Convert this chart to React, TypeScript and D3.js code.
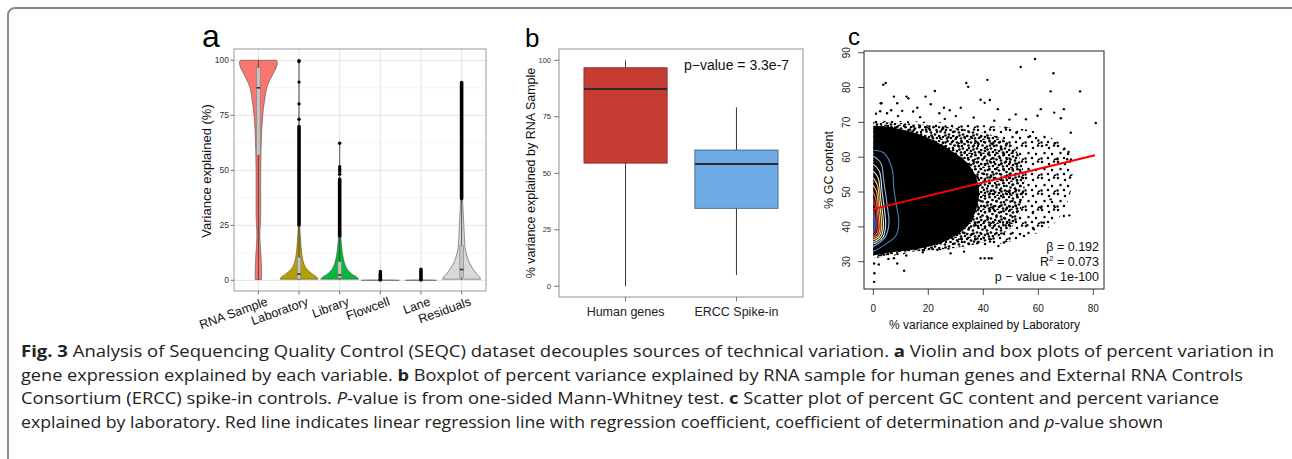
import * as d3 from 'd3'

// ---------- panel a: violin + box ----------
const A_CATS = ['RNA Sample', 'Laboratory', 'Library', 'Flowcell', 'Lane', 'Residuals']
const A_Y_TICKS = [0, 25, 50, 75, 100]
const A_Y_MINOR = [12.5, 37.5, 62.5, 87.5]

// [value, relative density width]
const A_DENSITY: number[][][] = [
  [[0.3, 0.16], [3, 0.17], [10.6, 0.14], [20, 0.08], [29, 0.12], [44, 0.12], [59, 0.14], [74, 0.22], [82, 0.33], [88, 0.46], [92.6, 0.7], [97, 0.95], [99, 1], [100, 0.95]],
  [[0.5, 1], [1.5, 0.93], [3, 0.68], [5, 0.42], [7, 0.28], [10, 0.18], [15, 0.11], [20, 0.07], [25, 0.04], [40, 0.02], [70, 0.01], [100, 0]],
  [[0.5, 1], [1.5, 0.9], [3, 0.62], [5, 0.4], [8, 0.25], [12, 0.15], [16, 0.1], [20, 0.06], [30, 0.03], [50, 0.01], [62, 0]],
  [[0, 1], [0.15, 0.5], [0.4, 0.04], [4, 0]],
  [[0, 0.82], [0.15, 0.4], [0.4, 0.04], [5, 0]],
  [[0.5, 1], [1.5, 0.95], [3, 0.78], [6, 0.54], [9, 0.36], [12, 0.25], [15, 0.18], [21, 0.14], [30, 0.09], [37, 0.05], [50, 0.02], [90, 0]],
]
// [lower whisker, q1, median, q3, upper whisker]
const A_BOX = [
  [0.3, 56.9, 87.5, 96.7, 100],
  [0.2, 0.5, 2.8, 10.4, 25],
  [0.2, 1, 2.4, 8.4, 20],
  [0, 0, 0.1, 0.3, 0.8],
  [0, 0, 0.1, 0.3, 0.9],
  [0.3, 1.2, 4.9, 15.8, 37],
]
// dense runs of outliers [from, to]
const A_OUT_BANDS: (number[] | null)[] = [null, [25, 70], [20, 46], [0, 2.8], [0, 4.5], [37, 90]]
const A_OUT_POINTS = [
  [],
  [73.2, 80.2, 90.1, 99.4, 99.8],
  [48.2, 49.5, 50.5, 51.6, 62.3],
  [3.3, 4],
  [5],
  [],
]

// ---------- panel b: boxplot ----------
const B_GROUPS = ['Human genes', 'ERCC Spike-in']
const B_BOX = [
  [0, 54.5, 87.3, 96.7, 100],
  [5, 34.5, 54.1, 60.3, 79.2],
]
const B_Y_TICKS = [0, 25, 50, 75, 100]

// ---------- panel c: scatter ----------
const C_X_TICKS = [0, 20, 40, 60, 80]
const C_Y_TICKS = [30, 40, 50, 60, 70, 80, 90]
// [x, yLow, yHigh] of the solid cloud and of the speckled zones around it
const C_CORE = [[0, 31.8, 69], [5, 32.5, 68.8], [10, 33, 68], [15, 33.5, 67], [20, 34.3, 65.5], [25, 35.5, 63.5], [30, 37.5, 61], [34, 40, 58.5], [37, 44, 55], [38.5, 49, 51]]
const C_MID = [[0, 31.2, 70.2], [10, 32.5, 69.8], [20, 33.2, 69.2], [30, 34, 68.4], [40, 35.6, 67], [46, 37.5, 65.5], [51, 40.5, 63], [54, 46, 58], [55, 51, 53]]
const C_SPARSE = [[0, 31, 70.5], [20, 33, 70.2], [35, 34, 69.5], [45, 35, 68.8], [55, 37, 68], [62, 39, 66.5], [67, 42, 64.5], [70, 46, 62.5], [72, 51, 60.5], [72.5, 55, 57]]
const C_POINTS = [
  [58.8, 88.2], [53.6, 85.9], [65.5, 84.1], [4.5, 81.3], [3.6, 80.8], [33.8, 81.3], [34.5, 80.2], [41.5, 82.2], [75.2, 78.9], [64.5, 78.9],
  [80.9, 69.8], [7.5, 77.4], [12.1, 77.4], [12.8, 76.9], [22.4, 79], [19, 77.4], [39, 76.5], [42.4, 76.4], [40.5, 75.6], [31.8, 74.2],
  [25.7, 74.2], [27.8, 73.5], [60.9, 73.8], [69.3, 73.8], [59.7, 71.9], [65.8, 72.8], [68.2, 71.2], [51.8, 72.3], [45.3, 73.8], [49.5, 70.8],
  [2.7, 75.5], [8.7, 75.5], [3, 75.5], [16, 74.2], [20.9, 75.2], [14.5, 73.1], [24, 72.6], [36.5, 71.4], [44, 70.5], [55.5, 70.9],
  [71.8, 67], [69.3, 62.3], [66.9, 59.4], [70.5, 59.4], [71, 61.5], [64.5, 47.9], [65.8, 46], [69.3, 43.1], [71.3, 43.3], [62, 41.2],
  [58.4, 39.3], [54.8, 37.4], [47.5, 35.5], [45.5, 34.5], [39, 31], [40.5, 31], [42, 31], [43, 31], [0.3, 29.5], [0.4, 26.7],
  [0.3, 24.2], [11.2, 27.4], [7.5, 31], [3.9, 32], [2, 29.2], [8.7, 29.5], [5.5, 30.8], [23.3, 33.4], [28.1, 32.4], [33, 32.9],
  [37.8, 35.3], [18, 32.7], [12, 31.8], [1, 72.5], [2.5, 73.2], [5, 72.6], [6.5, 73.5], [9, 71.8], [10.5, 73.3], [17, 71.5],
  [26, 71], [30, 71.8], [48, 68.5], [52, 67], [57, 66], [60, 64.8], [63, 63.5], [66, 64], [58, 44], [61, 45.5], [50, 38], [56, 40.5],
]
const C_CONTOURS = [
  [[0, 62], [3.9, 61.2], [6.9, 56.4], [7.5, 50.6], [8.7, 44.9], [9.3, 41.1], [8.1, 37.3], [5.1, 35.4], [1.5, 33.5], [0, 33]],
  [[0, 60.3], [2.7, 58.4], [3.9, 52.6], [5.1, 45.9], [5.7, 41.1], [4.5, 37.3], [1.5, 35], [0, 34.4]],
  [[0, 58], [2.2, 56], [3.2, 50], [4.2, 44], [4.5, 40.5], [3.5, 37], [1.2, 35.5], [0, 35.2]],
  [[0, 56], [1.8, 54], [2.7, 48], [3.5, 43], [3.7, 40], [2.8, 37.2], [1, 36], [0, 35.8]],
  [[0, 54], [1.5, 52], [2.2, 47], [2.9, 42.5], [3, 39.5], [2.2, 37.4], [0.8, 36.5], [0, 36.3]],
  [[0, 52], [1.2, 50], [1.8, 46], [2.3, 42], [2.4, 39.5], [1.7, 37.6], [0.6, 37], [0, 36.8]],
  [[0, 50], [0.9, 48], [1.4, 45], [1.8, 41.5], [1.8, 39.5], [1.2, 38], [0, 37.4]],
  [[0, 48], [0.7, 46], [1.1, 43.5], [1.3, 41], [1.2, 39.5], [0.7, 38.3], [0, 38]],
  [[0, 45], [0.5, 43.5], [0.8, 41.5], [0.7, 39.5], [0.3, 38.7], [0, 38.5]],
]
const C_REG = { intercept: 45.1, slope: 0.192, xMax: 80.6 }

const CAPTION = [
  [['b', 'Fig. 3'], ['n', ' Analysis of Sequencing Quality Control (SEQC) dataset decouples sources of technical variation. '], ['b', 'a'], ['n', ' Violin and box plots of percent variation in']],
  [['n', 'gene expression explained by each variable. '], ['b', 'b'], ['n', ' Boxplot of percent variance explained by RNA sample for human genes and External RNA Controls']],
  [['n', 'Consortium (ERCC) spike-in controls. '], ['i', 'P'], ['n', '-value is from one-sided Mann-Whitney test. '], ['b', 'c'], ['n', ' Scatter plot of percent GC content and percent variance']],
  [['n', 'explained by laboratory. Red line indicates linear regression line with regression coefficient, coefficient of determination and '], ['i', 'p'], ['n', '-value shown']],
]

const VIOLIN_FILL = ['#F8766D', '#B79F00', '#00BA38', '#00BFC4', '#619CFF', '#D9D9D9']
const CONTOUR_COLORS = ['#4a78b5', '#7fb0d6', '#c6e3ee', '#f3eeb0', '#fdd383', '#fba45c', '#ee613d', '#c8202a', '#3a4fa3']
const CAPTION_WIDTHS = [1253, 1222, 1198, 1142]
const FONT = "'Liberation Sans', Arial, sans-serif"

// texture tiles for the speckled part of the cloud
const SPECK_A = [[1, 1], [5, 2.5], [9.5, 1.2], [12.5, 4], [2.5, 5.5], [7, 6.5], [11, 8.5], [1.2, 10], [5, 11], [9, 12.5], [13, 12], [3.5, 13.8], [7.5, 9.5]]
const SPECK_B = [[2, 2], [9, 4], [14, 1.5], [4.5, 9], [12, 10], [1.5, 14.5], [8, 14], [15, 15.5]]

export default function App() {
  // panel a scales
  const ya = d3.scaleLinear().domain([0, 100]).range([280.3, 60.3])
  const xa = d3.scalePoint<string>().domain(A_CATS).range([234, 486]).padding(0.6)
  const wa = d3.scaleLinear().domain([0, 1]).range([0, 19])

  // panel b scales
  const yb = d3.scaleLinear().domain([0, 100]).range([286.3, 60.3])
  const xb = d3.scalePoint<string>().domain(B_GROUPS).range([559, 803]).padding(0.6)
  const boxW = xb.step() * 0.75

  // panel c scales
  const xc = d3.scaleLinear().domain([0, 80]).range([873.3, 1093.3])
  const yc = d3.scaleLinear().domain([30, 90]).range([261.7, 52.7])

  const envelope = d3.area<number[]>()
    .x(d => xc(d[0])).y0(d => yc(d[1])).y1(d => yc(d[2]))
    .curve(d3.curveCatmullRom)
  const contourLine = d3.line<number[]>().x(d => xc(d[0])).y(d => yc(d[1])).curve(d3.curveCatmullRom)

  return (
    <svg width={1292} height={459} style={{ position: 'absolute', left: 0, top: 0, background: '#fff' }} fontFamily={FONT}>
      <defs>
        <pattern id="speckA" width="14" height="14" patternUnits="userSpaceOnUse">
          {SPECK_A.map((p, i) => <circle key={i} cx={p[0]} cy={p[1]} r={1.35} fill="#000" />)}
        </pattern>
        <pattern id="speckB" width="16" height="16" patternUnits="userSpaceOnUse">
          {SPECK_B.map((p, i) => <circle key={i} cx={p[0]} cy={p[1]} r={1.25} fill="#000" />)}
        </pattern>
        <clipPath id="clipC"><rect x={864} y={51} width={240} height={238} /></clipPath>
      </defs>
      <rect x={8} y={8} width={1310} height={490} rx={7} fill="none" stroke="#8a8a8a" strokeWidth={2} />

      {/* ---------- a ---------- */}
      <text x={202} y={46.5} fontSize={32} fill="#000">a</text>
      <rect x={234} y={49} width={252} height={242} fill="#fff" />
      {A_Y_MINOR.map(v => <line key={'m' + v} x1={234} x2={486} y1={ya(v)} y2={ya(v)} stroke="#f2f2f2" strokeWidth={0.8} />)}
      {A_Y_TICKS.map(v => <line key={'g' + v} x1={234} x2={486} y1={ya(v)} y2={ya(v)} stroke="#e3e3e3" strokeWidth={1} />)}
      {A_CATS.map(c => <line key={'v' + c} x1={xa(c)} x2={xa(c)} y1={49} y2={291} stroke="#e3e3e3" strokeWidth={1} />)}
      {A_CATS.map((c, i) => {
        const cx = xa(c)!
        const area = d3.area<number[]>()
          .y(d => ya(d[0])).x0(d => cx - wa(d[1])).x1(d => cx + wa(d[1]))
          .curve(d3.curveCatmullRom)
        const [lw, q1, md, q3, hw] = A_BOX[i]
        const band = A_OUT_BANDS[i]
        return (
          <g key={c}>
            <path d={area(A_DENSITY[i])!} fill={VIOLIN_FILL[i]} stroke="#4d4d4d" strokeWidth={0.6} />
            <line x1={cx} x2={cx} y1={ya(hw)} y2={ya(q3)} stroke="#333" strokeWidth={0.8} />
            <line x1={cx} x2={cx} y1={ya(q1)} y2={ya(lw)} stroke="#333" strokeWidth={0.8} />
            <rect x={cx - 1.8} width={3.6} y={ya(q3)} height={Math.max(0.6, ya(q1) - ya(q3))} fill="#c4c4c4" stroke="#808080" strokeWidth={0.6} />
            <rect x={cx - 1.8} width={3.6} y={ya(md) - 0.8} height={1.6} fill="#333" />
            {band && <rect x={cx - 1.8} width={3.6} y={ya(band[1]) - 1.5} height={ya(band[0]) - ya(band[1]) + 3} rx={1.8} fill="#000" />}
            {A_OUT_POINTS[i].map((v, k) => <circle key={k} cx={cx} cy={ya(v)} r={1.7} fill="#000" />)}
          </g>
        )
      })}
      <rect x={234} y={49} width={252} height={242} fill="none" stroke="#9a9a9a" strokeWidth={1} />
      {A_Y_TICKS.map(v => (
        <g key={'t' + v}>
          <line x1={230.5} x2={234} y1={ya(v)} y2={ya(v)} stroke="#555" strokeWidth={0.8} />
          <text x={229} y={ya(v)} dy="0.35em" textAnchor="end" fontSize={8.5} fill="#333">{v}</text>
        </g>
      ))}
      {A_CATS.map(c => (
        <g key={'x' + c}>
          <line x1={xa(c)} x2={xa(c)} y1={291} y2={294.5} stroke="#555" strokeWidth={0.8} />
          <text transform={`translate(${xa(c)! + 7},${296}) rotate(-20)`} textAnchor="end" dy="0.75em" fontSize={12.5} fill="#111">{c}</text>
        </g>
      ))}
      <text transform="translate(211,171) rotate(-90)" textAnchor="middle" fontSize={13} fill="#111">Variance explained (%)</text>

      {/* ---------- b ---------- */}
      <text x={525} y={46.5} fontSize={26} fill="#000">b</text>
      {B_GROUPS.map((g, i) => {
        const cx = xb(g)!
        const [lw, q1, md, q3, hw] = B_BOX[i]
        return (
          <g key={g}>
            <line x1={cx} x2={cx} y1={yb(hw)} y2={yb(lw)} stroke="#222" strokeWidth={0.9} />
            <rect x={cx - boxW / 2} width={boxW} y={yb(q3)} height={yb(q1) - yb(q3)} fill={i === 0 ? '#C63B32' : '#6EAAE3'} stroke={i === 0 ? '#7a2a25' : '#3d5a7a'} strokeWidth={0.8} />
            <line x1={cx - boxW / 2} x2={cx + boxW / 2} y1={yb(md)} y2={yb(md)} stroke="#2b2b2b" strokeWidth={2} />
          </g>
        )
      })}
      <rect x={559} y={49} width={244} height={248} fill="none" stroke="#aaa" strokeWidth={1.3} />
      {B_Y_TICKS.map(v => (
        <g key={'bt' + v}>
          <line x1={554} x2={559} y1={yb(v)} y2={yb(v)} stroke="#555" strokeWidth={0.8} />
          <text x={551} y={yb(v)} dy="0.35em" textAnchor="end" fontSize={7.5} fill="#333">{v}</text>
        </g>
      ))}
      {B_GROUPS.map(g => (
        <g key={'bx' + g}>
          <line x1={xb(g)} x2={xb(g)} y1={297} y2={301.5} stroke="#555" strokeWidth={0.8} />
          <text x={xb(g)} y={316} textAnchor="middle" fontSize={12.5} fill="#222">{g}</text>
        </g>
      ))}
      <text transform="translate(535,173) rotate(-90)" textAnchor="middle" fontSize={12.5} fill="#111">% variance explained by RNA Sample</text>
      <text x={684} y={69.5} fontSize={14} fill="#111">p−value = 3.3e-7</text>

      {/* ---------- c ---------- */}
      <text x={848} y={45} fontSize={24} fill="#000">c</text>
      <g clipPath="url(#clipC)">
        <path d={envelope(C_SPARSE)!} fill="url(#speckB)" />
        <path d={envelope(C_MID)!} fill="url(#speckA)" />
        <path d={envelope(C_CORE)!} fill="#000" />
        {C_POINTS.map((p, i) => <circle key={i} cx={xc(p[0])} cy={yc(p[1])} r={1.2} fill="#000" />)}
        {C_CONTOURS.map((pts, i) => (
          <path key={'ct' + i} d={contourLine(pts)!} fill={i === C_CONTOURS.length - 1 ? CONTOUR_COLORS[i] : 'none'} stroke={CONTOUR_COLORS[i]} strokeWidth={1.15} />
        ))}
        <line x1={xc(0)} x2={xc(C_REG.xMax)} y1={yc(C_REG.intercept)} y2={yc(C_REG.intercept + C_REG.slope * C_REG.xMax)} stroke="#ff0000" strokeWidth={2} />
      </g>
      <rect x={864} y={51} width={240} height={238} fill="none" stroke="#222" strokeWidth={1} />
      {C_X_TICKS.map(v => (
        <g key={'cx' + v}>
          <line x1={xc(v)} x2={xc(v)} y1={289} y2={295} stroke="#222" strokeWidth={0.8} />
          <text x={xc(v)} y={312} textAnchor="middle" fontSize={10} fill="#222">{v}</text>
        </g>
      ))}
      {C_Y_TICKS.map(v => (
        <g key={'cy' + v}>
          <line x1={858} x2={864} y1={yc(v)} y2={yc(v)} stroke="#222" strokeWidth={0.8} />
          <text transform={`translate(850,${yc(v)}) rotate(-90)`} textAnchor="middle" fontSize={10} fill="#222">{v}</text>
        </g>
      ))}
      <text x={984.5} y={329} textAnchor="middle" fontSize={12} fill="#111">% variance explained by Laboratory</text>
      <text transform="translate(833,170) rotate(-90)" textAnchor="middle" fontSize={12.5} fill="#111">% GC content</text>
      <g fontSize={12.5} fill="#111" textAnchor="end">
        <text x={1099} y={251}>β = 0.192</text>
        <text x={1099} y={266}>R<tspan fontSize={8} dy={-5}>2</tspan><tspan dy={5}> = 0.073</tspan></text>
        <text x={1099} y={281}>p − value &lt; 1e-100</text>
      </g>

      {/* ---------- caption ---------- */}
      {CAPTION.map((line, i) => (
        <text key={'cap' + i} x={21} y={357 + i * 23.7} fontSize={16} fill="#222" fontFamily="'Open Sans', sans-serif" textLength={CAPTION_WIDTHS[i]} lengthAdjust="spacingAndGlyphs">
          {line.map((seg, k) => (
            <tspan key={k} fontWeight={seg[0] === 'b' ? 700 : 400} fontStyle={seg[0] === 'i' ? 'italic' : 'normal'}>{seg[1]}</tspan>
          ))}
        </text>
      ))}
    </svg>
  )
}
